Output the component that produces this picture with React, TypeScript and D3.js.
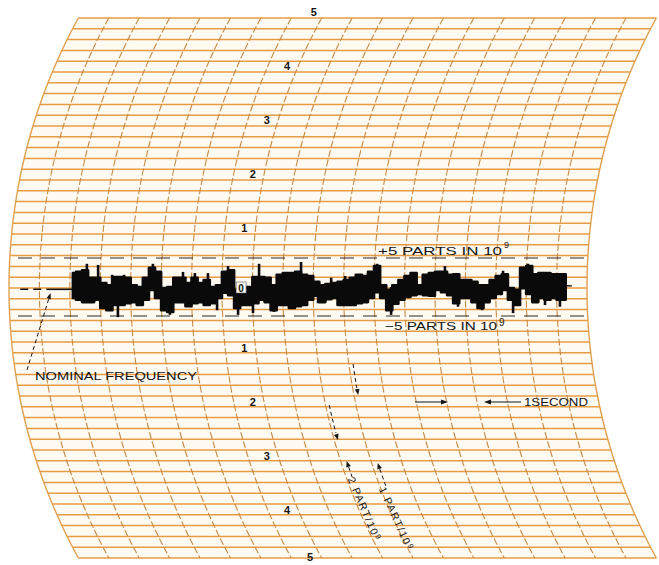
import React from "react";
import * as d3 from "d3";

const WIDTH = 659;
const HEIGHT = 565;

// Deflection scale printed along one arc of the chart paper
const scaleValues = [5, 4, 3, 2, 1, 0, -1, -2, -3, -4, -5];
const scaleLabels = ["5", "4", "3", "2", "1", "0", "1", "2", "3", "4", "5"];

// Recorded trace: time (s) and upper / lower envelope (parts in 10^9)
const traceTime = [
  2.1, 2.3, 2.5, 2.7, 2.9, 3.1, 3.3, 3.5, 3.7, 3.9,
  4.1, 4.3, 4.5, 4.7, 4.9, 5.1, 5.3, 5.5, 5.7, 5.9,
  6.1, 6.3, 6.5, 6.7, 6.9, 7.1, 7.3, 7.5, 7.7, 7.9,
  8.1, 8.3, 8.5, 8.7, 8.9, 9.1, 9.3, 9.5, 9.7, 9.9,
  10.1, 10.3, 10.5, 10.7, 10.9, 11.1, 11.3, 11.5, 11.7, 11.9,
  12.1, 12.3, 12.5, 12.7, 12.9, 13.1, 13.3, 13.5, 13.7, 13.9,
  14.1, 14.3, 14.5, 14.7, 14.9, 15.1, 15.3, 15.5, 15.7, 15.9,
  16.1, 16.3, 16.5, 16.7, 16.9, 17.1, 17.3, 17.5, 17.7, 17.9,
  18.1, 18.3,
];
const traceHigh = [
  2.4, 2.6, 2.9, 1.6, 1.6, 0.7, 0.3, 1.7, 1.7, 1.6,
  0.3, 0.0, 1.6, 3.3, 2.6, -0.2, 0.0, 1.6, 1.6, 0.7,
  1.6, 0.7, 1.2, 0.0, 0.3, 2.6, 2.9, -0.5, 0.0, 0.0,
  1.7, 1.7, 1.6, 0.3, 2.1, 2.4, 2.4, 2.6, 2.1, 1.9,
  0.9, 0.3, 0.5, 0.7, 0.9, 1.2, 1.6, 2.1, 1.9, 2.6,
  3.6, 0.3, -0.5, 0.3, 1.2, 1.9, 2.4, 0.3, 2.1, 2.4,
  2.6, 2.6, 2.1, 2.2, 1.2, 1.2, 0.9, 0.3, 0.3, 1.2,
  1.9, 2.2, -0.2, -0.5, 3.3, 3.6, 2.2, 2.4, 2.4, 2.2,
  2.2, 2.2,
];
const traceLow = [
  -1.9, -2.2, -2.6, -2.6, -2.2, -3.6, -4.0, -3.1, -3.1, -2.8,
  -2.6, -3.1, -2.2, -0.5, -1.9, -4.0, -4.3, -2.6, -2.6, -3.3,
  -2.8, -2.6, -3.1, -2.8, -1.9, -1.0, -1.4, -3.6, -3.1, -3.1,
  -2.8, -2.2, -2.6, -4.0, -3.1, -3.1, -3.6, -3.3, -3.1, -2.2,
  -1.5, -2.6, -2.1, -1.9, -3.1, -3.1, -3.1, -2.8, -2.6, -1.9,
  -0.9, -1.9, -4.0, -2.9, -2.2, -1.7, -1.4, -1.2, -1.4, -1.5,
  -0.5, -0.9, -1.4, -2.8, -1.9, -1.9, -2.6, -3.6, -2.6, -1.9,
  -1.2, -0.5, -2.2, -3.1, -0.2, -1.2, -2.6, -1.9, -2.2, -1.9,
  -2.2, -2.2,
];
// Narrow pen excursions
const spikeTime = [
  2.56, 2.93, 3.39, 3.58, 3.78, 4.73, 5.29, 5.72, 6.11, 6.54,
  6.84, 7.2, 7.53, 8.02, 8.22, 8.71, 9.6, 10.16, 10.59, 11.05,
  12.1, 12.56, 14.33, 14.76, 15.55, 16.24, 16.57, 17.06, 17.62, 18.11,
];
const spikeValue = [
  4.0, 3.8, 2.1, -5.2, 2.1, 4.0, -4.8, 2.6, 2.4, 2.4,
  -4.0, 3.6, -4.8, -4.5, 4.0, -4.3, 4.3, -2.8, 1.6, 1.9,
  4.0, -4.8, 3.6, -3.4, -4.0, 2.8, -4.5, 4.0, -3.1, -3.4,
];
// Nominal frequency lead-in (time, level)
const nominalDashedTime = [0.37, 1.25];
const nominalSolidTime = [1.25, 2.1];
const nominalLevel = -0.4;
const tailTime = [18.3, 18.5];
const tailLevel = 0.2;
const limitParts = [5, -5];

const FONT = "'Liberation Sans', Arial, sans-serif";
const INK = "#151515";

export default function App() {
  const xTime = d3.scaleLinear().domain([0, 19]).range([9, 587]);
  const yGrid = d3.scaleLinear().domain([-5, 5]).range([558, 18]);
  const yParts = d3.scaleLinear().domain([-5, 5]).range([316, 258]);

  const R = 560;
  const yC = yGrid(0);
  const arcOff = (y: number) => R - Math.sqrt(R * R - (y - yC) ** 2);
  const arcX = (t: number, y: number) => xTime(t) + arcOff(y);
  const slopeAt = (y: number) => (y - yC) / Math.sqrt(R * R - (y - yC) ** 2);
  const angleAt = (y: number) => (Math.atan2(1, slopeAt(y)) * 180) / Math.PI;

  const ys = d3.range(yGrid(5), yGrid(-5) + 0.01, 2);
  const arcPath = (t: number, y1: number, y2: number) =>
    d3
      .line<number>()
      .x((y) => arcX(t, y))
      .y((y) => y)(d3.range(y1, y2 + 0.01, 1)) as string;

  const paper =
    [
      ...ys.map((y) => [arcX(0, y), y]),
      ...ys
        .slice()
        .reverse()
        .map((y) => [arcX(19, y), y]),
    ]
      .map((p, i) => (i === 0 ? "M" : "L") + p[0].toFixed(2) + "," + p[1].toFixed(2))
      .join("") + "Z";

  const hLines = yGrid.ticks(50);
  const vArcs = xTime.ticks(19);

  const idx = d3.range(traceTime.length);
  const area = d3
    .area<number>()
    .x((i) => xTime(traceTime[i]))
    .y0((i) => yParts(traceLow[i]))
    .y1((i) => yParts(traceHigh[i]))
    .curve(d3.curveStep);

  const arrowHead = (x: number, y: number, ux: number, uy: number, L = 6, w = 2.4) => {
    const n = Math.hypot(ux, uy);
    ux /= n;
    uy /= n;
    const px = -uy,
      py = ux;
    const bx = x - ux * L,
      by = y - uy * L;
    return `M${x},${y}L${bx + px * w},${by + py * w}L${bx - px * w},${by - py * w}Z`;
  };
  const arcArrow = (t: number, y: number, down: boolean) => {
    const s = slopeAt(y);
    return arrowHead(arcX(t, y), y, down ? s : -s, down ? 1 : -1);
  };

  const labelT = 7.63;
  const zeroY = yGrid(0);
  const edge = (t: number) => t === 0 || t === 19;

  const rotLabel = (t: number, y: number, text: string, key: string) => {
    const x = arcX(t, y);
    return (
      <text
        key={key}
        transform={`translate(${x},${y}) rotate(${angleAt(y + 30)})`}
        fontFamily={FONT}
        fontSize={10.5}
        fill={INK}
        letterSpacing={1.4}
      >
        {text}
        <tspan fontSize={7.5} dy={-3}>
          9
        </tspan>
      </text>
    );
  };

  return (
    <svg
      width={WIDTH}
      height={HEIGHT}
      style={{ position: "absolute", left: 0, top: 0, background: "#ffffff" }}
    >
      <path d={paper} fill="#fffaf2" />
      {/* horizontal chart lines */}
      {hLines.map((d, i) => {
        const y = yGrid(d);
        return (
          <line
            key={"h" + i}
            x1={arcX(0, y)}
            x2={arcX(19, y)}
            y1={y}
            y2={y}
            stroke="#e69c45"
            strokeWidth={1.5}
          />
        );
      })}
      {/* curvilinear time arcs */}
      {vArcs.map((t) => (
        <path
          key={"v" + t}
          d={d3.line<number>().x((y) => arcX(t, y)).y((y) => y)(ys) as string}
          fill="none"
          stroke={edge(t) ? "#e0a050" : "#c98a44"}
          strokeWidth={edge(t) ? 1.4 : 1.1}
          strokeDasharray={edge(t) ? undefined : "7 2.5"}
        />
      ))}

      {/* deflection scale numbers */}
      {scaleValues.map((v, i) => {
        const y = Math.min(yGrid(v) - 6 * Math.sign(v), 557);
        return (
          <text
            key={"s" + i}
            x={arcX(labelT, y)}
            y={y}
            dy="0.35em"
            textAnchor="middle"
            fontFamily={FONT}
            fontSize={11}
            fontWeight="bold"
            fill={INK}
          >
            {scaleLabels[i]}
          </text>
        );
      })}

      {/* limit lines */}
      {limitParts.map((p) => (
        <line
          key={"lim" + p}
          x1={18}
          x2={585}
          y1={yParts(p)}
          y2={yParts(p)}
          stroke="#2b2b2b"
          strokeWidth={1.2}
          strokeDasharray="14 9"
        />
      ))}

      {/* nominal frequency lead-in */}
      <line
        x1={xTime(nominalDashedTime[0])}
        x2={xTime(nominalDashedTime[1])}
        y1={yParts(nominalLevel)}
        y2={yParts(nominalLevel)}
        stroke="#111"
        strokeWidth={1.6}
        strokeDasharray="8 5"
      />
      <line
        x1={xTime(nominalSolidTime[0])}
        x2={xTime(nominalSolidTime[1])}
        y1={yParts(nominalLevel)}
        y2={yParts(nominalLevel)}
        stroke="#111"
        strokeWidth={1.6}
      />

      {/* trace */}
      <path d={area(idx) as string} fill="#0a0a0a" stroke="#0a0a0a" strokeWidth={2.6} strokeLinejoin="round" />
      {spikeTime.map((t, i) => (
        <line
          key={"sp" + i}
          x1={xTime(t)}
          x2={xTime(t)}
          y1={yParts(spikeValue[i])}
          y2={yParts(0)}
          stroke="#0a0a0a"
          strokeWidth={2.6}
        />
      ))}
      <line
        x1={xTime(tailTime[0])}
        x2={xTime(tailTime[1])}
        y1={yParts(tailLevel)}
        y2={yParts(tailLevel)}
        stroke="#111"
        strokeWidth={1.4}
      />

      {/* zero label sits on the trace */}
      <rect x={arcX(labelT, zeroY) - 5} y={zeroY - 6} width={10} height={11} fill="#fffaf2" stroke="#555" strokeWidth={0.6} />
      <text
        x={arcX(labelT, zeroY)}
        y={zeroY}
        dy="0.35em"
        textAnchor="middle"
        fontFamily={FONT}
        fontSize={10}
        fontWeight="bold"
        fill={INK}
      >
        0
      </text>

      {/* limit annotations */}
      <text x={378} y={255} fontFamily={FONT} fontSize={11.5} fill={INK} textLength={124} lengthAdjust="spacingAndGlyphs">
        +5 PARTS IN 10
      </text>
      <text x={504} y={248} fontFamily={FONT} fontSize={9} fill={INK}>
        9
      </text>
      <text x={385} y={330} fontFamily={FONT} fontSize={11.5} fill={INK} textLength={112} lengthAdjust="spacingAndGlyphs">
        −5 PARTS IN 10
      </text>
      <text x={499} y={326} fontFamily={FONT} fontSize={10} fill={INK}>
        9
      </text>

      {/* nominal frequency label */}
      <line x1={27} y1={370} x2={49} y2={298} stroke={INK} strokeWidth={1} strokeDasharray="4 3" />
      <path d={arrowHead(50.5, 293, 22, -72, 6, 2.2)} fill={INK} />
      <text x={35} y={380} fontFamily={FONT} fontSize={11} fill={INK} textLength={162} lengthAdjust="spacingAndGlyphs">
        NOMINAL FREQUENCY
      </text>

      {/* one second marker */}
      <line x1={415} x2={442} y1={402} y2={402} stroke={INK} strokeWidth={1} />
      <path d={arrowHead(448, 402, 1, 0, 7, 2.4)} fill={INK} />
      <line x1={490} x2={521} y1={402} y2={402} stroke={INK} strokeWidth={1} />
      <path d={arrowHead(484, 402, -1, 0, 7, 2.4)} fill={INK} />
      <text x={524} y={406} fontFamily={FONT} fontSize={11} fill={INK} textLength={64} lengthAdjust="spacingAndGlyphs">
        1SECOND
      </text>

      {/* sensitivity markers along arcs */}
      <path d={arcPath(10.12, 405, 433)} fill="none" stroke={INK} strokeWidth={1} strokeDasharray="4 3" />
      <path d={arcArrow(10.12, 440, true)} fill={INK} />
      <path d={arcArrow(10.2, 461, false)} fill={INK} />
      <path d={arcPath(10.2, 467, 478)} fill="none" stroke={INK} strokeWidth={1} strokeDasharray="4 3" />
      <path d={arcPath(11.14, 364, 388)} fill="none" stroke={INK} strokeWidth={1} strokeDasharray="4 3" />
      <path d={arcArrow(11.14, 395, true)} fill={INK} />
      <path d={arcArrow(11.2, 463, false)} fill={INK} />
      <path d={arcPath(11.2, 469, 488)} fill="none" stroke={INK} strokeWidth={1} strokeDasharray="4 3" />

      {rotLabel(10.02, 479, "2 PART/10", "r2")}
      {rotLabel(10.93, 489, "1 PART/10", "r1")}
    </svg>
  );
}
